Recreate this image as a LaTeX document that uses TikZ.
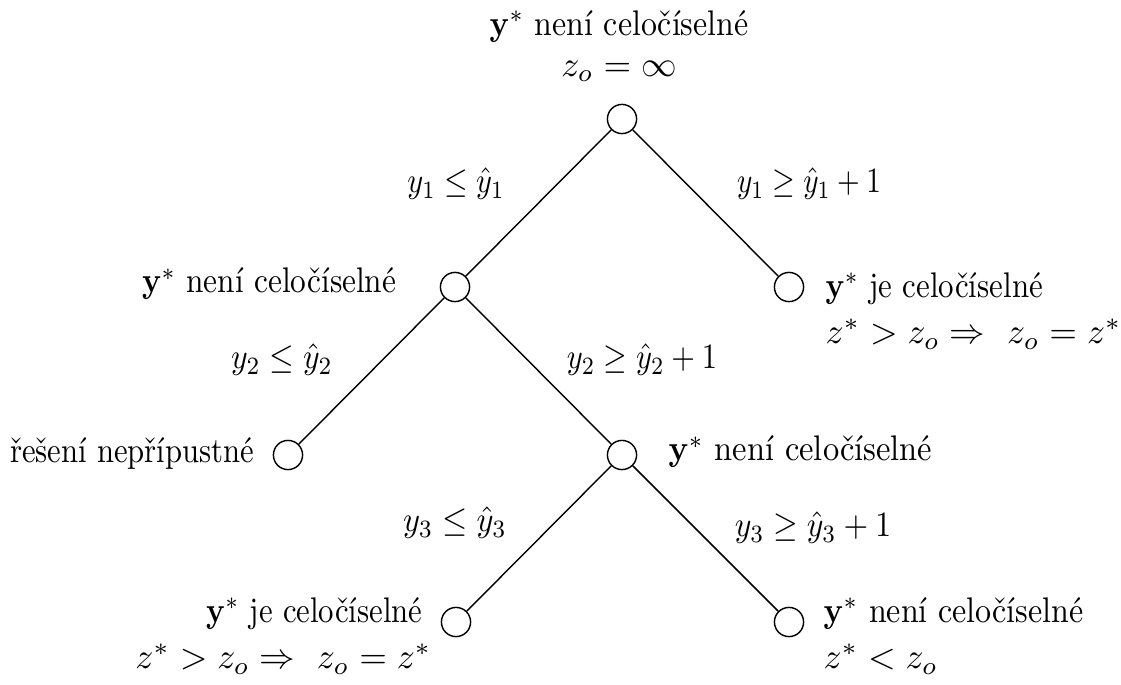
\documentclass[tikz,border=0pt]{standalone}
\usepackage{graphicx}
\usepackage{amsmath}
\newcommand\sx[2]{\scalebox{#1}[1]{#2}}
\begin{document}
\begin{tikzpicture}[x=0.281pt,y=-0.281pt,
  vert/.style={circle,draw,line width=0.4pt,minimum size=8.2pt,inner sep=0pt},
  lbl/.style={inner sep=0pt},
  edge/.style={line width=0.4pt}]
\useasboundingbox (0,0) rectangle (1121,684);
\node[vert] (r) at (622,119) {};
\node[vert] (a) at (455,287) {};
\node[vert] (b) at (789,287) {};
\node[vert] (c) at (288,455) {};
\node[vert] (d) at (622,455) {};
\node[vert] (e) at (456,622) {};
\node[vert] (f) at (789,622) {};
\draw[edge] (r) -- (a);
\draw[edge] (r) -- (b);
\draw[edge] (a) -- (c);
\draw[edge] (a) -- (d);
\draw[edge] (d) -- (e);
\draw[edge] (d) -- (f);
% node texts
\node[lbl,align=center] (tr) at (619,46) {\sx{0.896}{$\mathbf{y}^*$ není celočíselné}\\[-0.5pt] $z_o=\infty$};
\node[lbl,anchor=east] (ta) at (397,284) {\sx{0.88}{$\mathbf{y}^*$ není celočíselné}};
\node[lbl,anchor=west,align=left] (tb) at (825,311) {\sx{0.868}{$\mathbf{y}^*$ je celočíselné}\\[1pt] $z^*>z_o\Rightarrow\ z_o=z^*$};
\node[lbl,anchor=east] (tc) at (255,454) {\sx{0.862}{řešení nepřípustné}};
\node[lbl,anchor=west] (td) at (668,452) {\sx{0.913}{$\mathbf{y}^*$ není celočíselné}};
\node[lbl,anchor=east,align=right] (te) at (432,636) {\sx{0.864}{$\mathbf{y}^*$ je celočíselné}\hspace*{2.5pt}\\[1pt] $z^*>z_o\Rightarrow\ z_o=z^*$};
\node[lbl,anchor=west,align=left] (tf) at (823,636) {\sx{0.9}{$\mathbf{y}^*$ není celočíselné}\\[1pt] $z^*<z_o$};
% edge labels
\node[lbl] (l1) at (456,184) {\sx{0.85}{$y_1\le\hat{y}_1$}};
\node[lbl] (l2) at (809,184) {\sx{0.82}{$y_1\ge\hat{y}_1+1$}};
\node[lbl] (l3) at (282,360) {\sx{0.89}{$y_2\le\hat{y}_2$}};
\node[lbl] (l4) at (642,360) {\sx{0.855}{$y_2\ge\hat{y}_2+1$}};
\node[lbl] (l5) at (455,523) {\sx{0.91}{$y_3\le\hat{y}_3$}};
\node[lbl] (l6) at (813,528) {\sx{0.89}{$y_3\ge\hat{y}_3+1$}};
\end{tikzpicture}
\end{document}
